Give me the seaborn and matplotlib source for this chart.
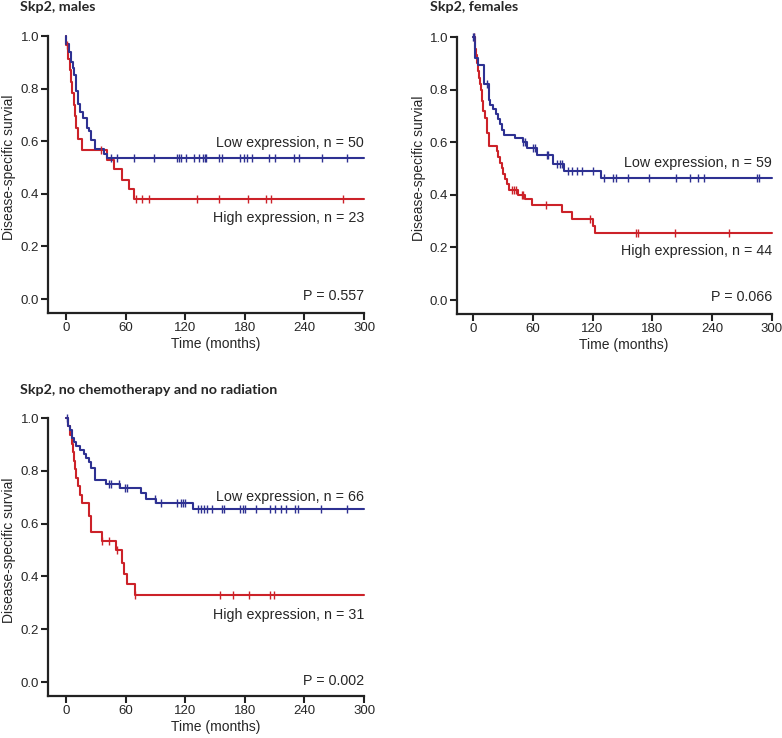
import numpy as np
import pandas as pd
import matplotlib
matplotlib.use('Agg')
import matplotlib.pyplot as plt
import seaborn as sns

BLUE = '#2e3192'
RED = '#cc2229'

# ---- Skp2, males ----
males_low_t = [0, 0.5, 3, 5, 7, 8, 10, 12, 14, 17, 21, 23, 25, 29, 38, 41]
males_low_s = [1.0, 0.97, 0.94, 0.90, 0.88, 0.85, 0.79, 0.74, 0.71, 0.69, 0.65, 0.64, 0.605, 0.57, 0.55, 0.535]
males_low_cens = [45, 51, 68, 89, 112, 114, 116, 121, 129, 134, 138, 140, 141, 154, 157,
                  175, 179, 182, 187, 204, 210, 230, 235, 258, 283]
males_high_t = [0, 0.5, 2, 4, 5, 6, 8, 9, 10, 12, 16, 41, 48, 56, 63, 68]
males_high_s = [1.0, 0.967, 0.913, 0.87, 0.826, 0.783, 0.739, 0.696, 0.652, 0.609, 0.565,
                0.53, 0.494, 0.453, 0.418, 0.38]
males_high_cens = [1, 35, 70, 77, 84, 132, 154, 183, 201, 206, 279]

# ---- Skp2, females ----
females_low_t = [0, 2, 5, 11, 16, 17, 20, 23, 25, 27, 29, 31, 42, 50, 54, 64, 80, 91, 128]
females_low_s = [1.0, 0.92, 0.894, 0.82, 0.76, 0.74, 0.725, 0.706, 0.69, 0.668, 0.646, 0.627,
                 0.615, 0.60, 0.58, 0.552, 0.516, 0.49, 0.465]
females_low_cens = [0.5, 1, 14, 50, 52, 60, 62, 74, 75, 84, 87, 89, 95, 99, 104, 109, 120,
                    131, 140, 144, 156, 177, 204, 218, 226, 232, 285, 287]
females_high_t = [0, 2, 3, 4, 5, 6, 7, 8, 9, 10, 12, 14, 16, 24, 25, 27, 29, 30, 32, 34, 36,
                  45, 52, 59, 89, 99, 120, 122]
females_high_s = [1.0, 0.955, 0.93, 0.90, 0.87, 0.846, 0.82, 0.80, 0.757, 0.72, 0.694, 0.637,
                  0.586, 0.567, 0.545, 0.523, 0.504, 0.48, 0.46, 0.44, 0.42, 0.40, 0.384, 0.36,
                  0.333, 0.308, 0.28, 0.256]
females_high_cens = [1, 39, 41, 43, 49, 50, 73, 117, 164, 166, 203, 257]

# ---- Skp2, no chemotherapy and no radiation ----
nochemo_low_t = [0, 2, 4, 6, 8, 10, 14, 18, 20, 23, 25, 29, 40, 54, 75, 81, 91, 128]
nochemo_low_s = [1.0, 0.97, 0.955, 0.925, 0.91, 0.895, 0.88, 0.865, 0.85, 0.835, 0.81, 0.765,
                 0.75, 0.735, 0.715, 0.695, 0.677, 0.654]
nochemo_low_cens = [1, 43, 45, 53, 59, 61, 90, 96, 112, 116, 118, 120, 133, 136, 139, 142, 147,
                    157, 159, 175, 178, 180, 191, 205, 210, 216, 221, 231, 234, 257, 283]
nochemo_high_t = [0, 2, 4, 6, 7, 8, 9, 10, 12, 14, 16, 23, 25, 36, 50, 56, 58, 61, 69]
nochemo_high_s = [1.0, 0.968, 0.935, 0.903, 0.871, 0.839, 0.806, 0.774, 0.742, 0.71, 0.677,
                  0.629, 0.567, 0.535, 0.5, 0.45, 0.41, 0.37, 0.33]
nochemo_high_cens = [36, 43, 51, 69, 155, 168, 184, 205, 209]

x_ticks = [0, 60, 120, 180, 240, 300]
y_ticks = [0.0, 0.2, 0.4, 0.6, 0.8, 1.0]
T_MAX = 300


def draw_curve(ax, t, s, cens, color):
    t = list(t) + [T_MAX]
    s = list(s) + [s[-1]]
    df = pd.DataFrame({'t': t, 's': s})
    sns.lineplot(data=df, x='t', y='s', ax=ax, color=color, lw=1.5,
                 drawstyle='steps-post', sort=False, clip_on=False)
    idx = np.searchsorted(np.array(t), np.array(cens), side='right') - 1
    cdf = pd.DataFrame({'t': cens, 's': np.array(s)[idx]})
    sns.scatterplot(data=cdf, x='t', y='s', ax=ax, marker='|', s=26,
                    color=color, linewidth=1.0, clip_on=False, zorder=3)


def style_axes(ax, xmin):
    ax.set_xlim(xmin, T_MAX)
    ax.set_ylim(-0.053, 1.0)
    ax.set_xticks(x_ticks)
    ax.set_yticks(y_ticks)
    ax.set_yticklabels([f'{v:.1f}' for v in y_ticks])
    for side in ['top', 'right']:
        ax.spines[side].set_visible(False)
    for side in ['left', 'bottom']:
        ax.spines[side].set_linewidth(1.6)
        ax.spines[side].set_color('#222222')
    ax.tick_params(direction='out', length=5, width=1.5, labelsize=9.5, pad=1.5,
                   color='#222222')
    ax.set_xlabel('Time (months)', fontsize=10)
    ax.set_ylabel('Disease-specific survial', fontsize=10)
    ax.xaxis.set_label_coords(0.53, -0.088)
    ax.yaxis.set_label_coords(-0.10, 0.525)
    ax.grid(False)


sns.set_theme(style='ticks')
plt.rcParams['font.family'] = ['Liberation Sans', 'DejaVu Sans']

fig = plt.figure(figsize=(7.82, 7.38), dpi=100)
ax1 = fig.add_axes([0.0614, 0.5759, 0.4041, 0.3753])
ax2 = fig.add_axes([0.5844, 0.5745, 0.4028, 0.3753])
ax3 = fig.add_axes([0.0614, 0.0569, 0.4041, 0.3767])

panels = [
    (ax1, -18.1, males_low_t, males_low_s, males_low_cens,
     males_high_t, males_high_s, males_high_cens,
     'Low expression, n = 50', 0.593, 'High expression, n = 23', 0.308, 'P = 0.557', 0.01),
    (ax2, -16.0, females_low_t, females_low_s, females_low_cens,
     females_high_t, females_high_s, females_high_cens,
     'Low expression, n = 59', 0.52, 'High expression, n = 44', 0.186, 'P = 0.066', 0.01),
    (ax3, -18.1, nochemo_low_t, nochemo_low_s, nochemo_low_cens,
     nochemo_high_t, nochemo_high_s, nochemo_high_cens,
     'Low expression, n = 66', 0.70, 'High expression, n = 31', 0.254, 'P = 0.002', 0.004),
]

for (ax, xmin, lt, ls, lc, ht, hs, hc, low_txt, low_y, high_txt, high_y, p_txt, p_y) in panels:
    draw_curve(ax, ht, hs, hc, RED)
    draw_curve(ax, lt, ls, lc, BLUE)
    style_axes(ax, xmin)
    ax.text(T_MAX, low_y, low_txt, ha='right', va='center', fontsize=10.3)
    ax.text(T_MAX, high_y, high_txt, ha='right', va='center', fontsize=10.3)
    ax.text(T_MAX, p_y, p_txt, ha='right', va='center', fontsize=10.3)

title_kw = dict(fontsize=10.3, fontweight='bold', family=['Lato', 'DejaVu Sans'], va='center')
fig.text(20 / 782, 1 - 7 / 738, 'Skp2, males', **title_kw)
fig.text(430 / 782, 1 - 7 / 738, 'Skp2, females', **title_kw)
fig.text(20 / 782, 1 - 390 / 738, 'Skp2, no chemotherapy and no radiation', **title_kw)

fig.savefig('out.png', dpi=100)
